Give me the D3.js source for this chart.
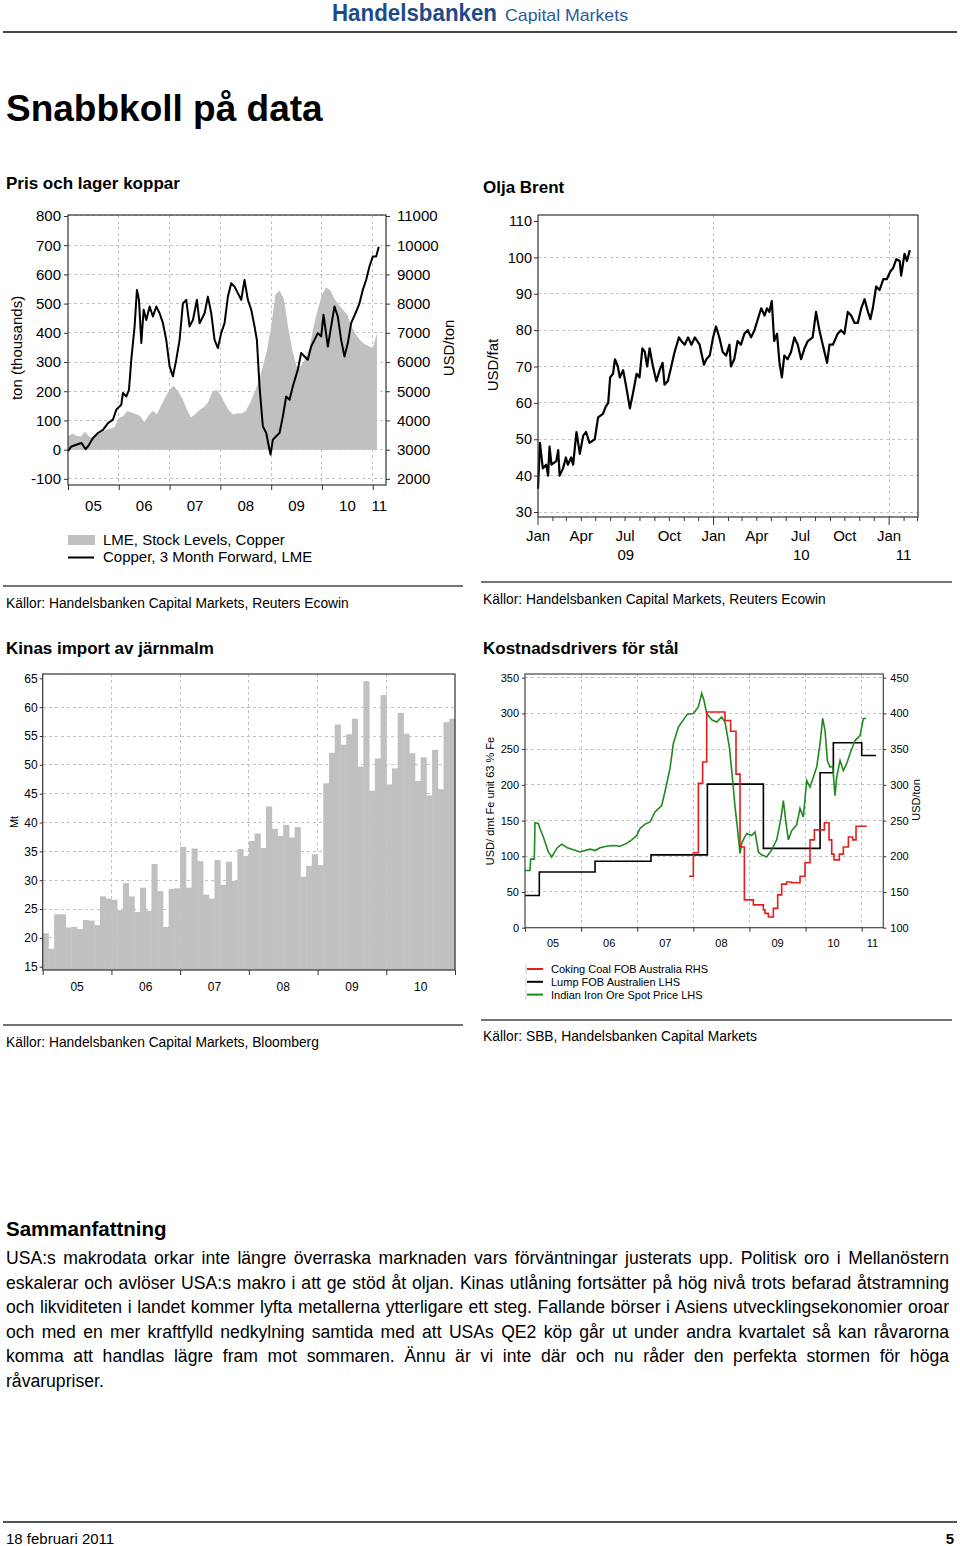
<!DOCTYPE html>
<html>
<head>
<meta charset="utf-8">
<title>Snabbkoll på data</title>
<script src="https://d3js.org/d3.v7.min.js"></script>
<style>
  body { margin: 0; background: #fff; }
  #page { width: 960px; height: 1546px; }
  .grid line { stroke: #c2c2c2; stroke-dasharray: 3,3; shape-rendering: crispEdges; }
</style>
</head>
<body>
<div id="page"></div>
<script>
// ---- Pris och lager koppar ----
const copperYears = [
  2005.000,2005.066,2005.164,2005.262,2005.348,2005.393,2005.492,2005.590,2005.689,2005.787,
  2005.885,2005.951,2006.049,2006.082,2006.148,2006.200,2006.246,2006.311,2006.357,2006.397,
  2006.443,2006.489,2006.541,2006.607,2006.672,2006.738,2006.803,2006.869,2006.934,2007.000,
  2007.066,2007.131,2007.197,2007.262,2007.328,2007.393,2007.459,2007.538,2007.590,2007.689,
  2007.754,2007.820,2007.885,2007.951,2008.016,2008.082,2008.148,2008.213,2008.279,2008.344,
  2008.410,2008.475,2008.541,2008.607,2008.672,2008.718,2008.770,2008.836,2008.902,2008.954,
  2008.987,2009.033,2009.098,2009.164,2009.230,2009.295,2009.361,2009.426,2009.525,2009.590,
  2009.656,2009.721,2009.787,2009.852,2009.918,2009.984,2010.030,2010.115,2010.180,2010.246,
  2010.311,2010.377,2010.443,2010.508,2010.574,2010.659,2010.738,2010.803,2010.869,2010.934,
  2011.000,2011.066,2011.118];
const copperPrice = [
  2950,3110,3170,3230,3020,3110,3400,3570,3680,3910,
  4030,4370,4540,4940,4820,5050,6080,7220,8470,8130,
  6650,7790,7440,7900,7560,7900,7670,7330,6760,5850,
  5510,6080,6760,8010,8130,7220,7440,8130,7330,7670,
  8240,7670,6760,6480,6990,7330,8240,8700,8580,8360,
  8130,8810,8130,7790,7220,6760,5170,3800,3570,3110,
  2830,3340,3460,3570,4140,4820,4710,5170,5740,6310,
  6190,6080,6530,6760,6990,6880,7620,6530,7220,7900,
  7560,6760,6190,6650,7330,7670,8010,8470,8810,9270,
  9610,9610,9950];
// monthly from Jan 2005, thousand tons
const copperStock = [
  45,55,48,45,62,45,40,52,60,67,72,78,
  108,114,132,127,122,115,95,115,133,122,150,180,
  205,219,200,175,140,110,120,135,145,160,195,205,
  190,160,135,120,125,125,132,160,195,230,285,340,
  422,530,545,515,420,340,285,285,310,345,420,480,
  530,556,545,515,495,478,462,420,395,375,362,355,
  348,400];
const copperStockTicks = [-100,0,100,200,300,400,500,600,700,800];
const copperPriceTicks = [2000,3000,4000,5000,6000,7000,8000,9000,10000,11000];
const copperYearLabels = ["05","06","07","08","09","10","11"];

// ---- Olja Brent ----
const brentDates = [
  "2009-01-01","2009-01-05","2009-01-11","2009-01-18","2009-01-22","2009-01-25","2009-01-29","2009-02-08","2009-02-12","2009-02-15",
  "2009-02-22","2009-02-28","2009-03-04","2009-03-11","2009-03-15","2009-03-22","2009-03-29","2009-04-05","2009-04-11","2009-04-18",
  "2009-04-29","2009-05-06","2009-05-16","2009-05-22","2009-05-27","2009-05-31","2009-06-06","2009-06-10","2009-06-16","2009-06-20",
  "2009-06-27","2009-07-04","2009-07-11","2009-07-18","2009-07-25","2009-07-31","2009-08-06","2009-08-11","2009-08-16","2009-08-21",
  "2009-08-28","2009-09-04","2009-09-11","2009-09-17","2009-09-21","2009-09-28","2009-10-05","2009-10-12","2009-10-21","2009-10-26",
  "2009-11-02","2009-11-09","2009-11-16","2009-11-23","2009-12-03","2009-12-12","2009-12-17","2009-12-24","2009-12-31","2010-01-06",
  "2010-01-13","2010-01-20","2010-01-27","2010-02-03","2010-02-06","2010-02-13","2010-02-20","2010-02-27","2010-03-06","2010-03-13",
  "2010-03-20","2010-03-27","2010-04-03","2010-04-10","2010-04-17","2010-04-22","2010-04-27","2010-05-02","2010-05-07","2010-05-13",
  "2010-05-18","2010-05-23","2010-05-28","2010-06-04","2010-06-11","2010-06-18","2010-06-25","2010-07-02","2010-07-09","2010-07-16",
  "2010-07-26","2010-08-02","2010-08-09","2010-08-16","2010-08-25","2010-08-30","2010-09-06","2010-09-16","2010-09-23","2010-09-30",
  "2010-10-07","2010-10-14","2010-10-21","2010-10-28","2010-11-04","2010-11-11","2010-11-18","2010-11-23","2010-11-28","2010-12-05",
  "2010-12-12","2010-12-20","2010-12-27","2011-01-03","2011-01-09","2011-01-16","2011-01-23","2011-01-26","2011-02-02","2011-02-07",
  "2011-02-13"];
const brentValues = [
  36.4,49,42,43,40,48,43,44,47,40,
  42,45,43,45,43,52,46,51,52,49,
  50,56,57,59,60,67,68,72,70,67,
  69,64,58.5,63,68,67,75,74,70,75,
  70,66,69,71,65,66,70,74,78,77,
  76,78,76,78,76,70.5,72,73,78,81,
  78,74,73,76,70,72,77,76,79,80,
  78,80,83,86,84,86,85,88,77,79,
  71,67,73,72,74,78,76,72,75,77,
  78,85,80,76,71,76,76,79,80,79,
  85,84,82,82,86,88.5,85,83,86,92,
  91,94,94,96,97,99.5,99,95,101,99,
  102];
const brentTicks = [30,40,50,60,70,80,90,100,110];
const brentQuarterLabels = ["Jan","Apr","Jul","Oct"];
const brentYearLabels = ["09","10","11"];

// ---- Kinas import av järnmalm (Mt per month, Jan 2005 - Dec 2010) ----
const ironImport = [
  20.8,18.1,24.1,24.1,21.8,21.9,21.5,23.1,23.0,22.2,27.2,26.8,
  26.6,24.8,29.5,27.2,24.5,28.7,24.7,32.8,28.1,21.9,28.5,28.6,
  35.8,28.7,35.5,33.3,27.5,26.8,33.5,29.2,33.2,29.9,35.4,34.2,
  36.8,38.1,35.6,42.8,38.9,37.7,39.6,37.4,39.2,30.6,32.5,34.5,
  32.6,46.8,52.1,57.0,53.5,55.3,58.0,49.7,64.5,45.5,51.1,62.1,
  46.6,49.4,59.0,55.4,52.0,47.2,51.3,44.7,52.6,45.8,57.4,58.0];
const importTicks = [15,20,25,30,35,40,45,50,55,60,65];
const importYearLabels = ["05","06","07","08","09","10"];

// ---- Kostnadsdrivers för stål ----
const lumpYears = [2005.0,2005.255,2006.248,2007.245,2008.25,2009.248,2010.258,2010.495,2011.0,2011.255];
const lumpValues = [45,78,93,102,201,111,217,259,241,241];
const coalYears = [2007.923,2008.000,2008.089,2008.166,2008.238,2008.564,2008.665,2008.760,2008.832,2008.909,
  2009.069,2009.248,2009.277,2009.337,2009.426,2009.503,2009.574,2009.663,2009.753,2009.901,
  2009.990,2010.079,2010.157,2010.335,2010.418,2010.466,2010.507,2010.602,2010.673,2010.763,
  2010.840,2010.899,2011.089];
const coalValues = [172,205,302,332,402,390,375,315,213,139,
  132,125,120,115,127,146,161,164,163,172,
  191,223,237,247,223,203,195,203,213,227,
  223,242,242];
const oreYears = [2005.000,2005.089,2005.101,2005.166,2005.178,2005.238,2005.267,2005.327,2005.416,2005.475,
  2005.576,2005.653,2005.754,2005.980,2006.158,2006.248,2006.337,2006.455,2006.574,2006.693,
  2006.812,2006.901,2006.990,2007.050,2007.139,2007.228,2007.317,2007.436,2007.513,2007.584,
  2007.644,2007.733,2007.822,2007.893,2008.000,2008.089,2008.149,2008.190,2008.238,2008.327,
  2008.416,2008.505,2008.564,2008.642,2008.701,2008.743,2008.784,2008.832,2008.862,2008.903,
  2008.951,2009.040,2009.099,2009.159,2009.218,2009.307,2009.396,2009.485,2009.557,2009.604,
  2009.652,2009.693,2009.753,2009.842,2009.901,2009.960,2010.020,2010.079,2010.139,2010.198,
  2010.258,2010.305,2010.347,2010.388,2010.436,2010.483,2010.525,2010.554,2010.614,2010.673,
  2010.733,2010.792,2010.881,2010.970,2011.030,2011.077];
const oreValues = [80,80,96,96,147,146,139,127,106,99,
  112,117,112,106,110,108,112,114,115,114,
  118,123,129,139,145,148,162,171,197,223,
  258,281,291,299,300,309,328,318,300,291,
  288,295,288,253,206,169,141,104,118,125,
  132,129,134,106,102,99,109,123,151,178,
  146,123,136,144,167,155,206,197,211,225,
  258,293,276,234,225,226,185,211,234,220,
  230,244,262,269,293,293];
const steelLeftTicks = [0,50,100,150,200,250,300,350];
const steelRightTicks = [100,150,200,250,300,350,400,450];
const steelYearLabels = ["05","06","07","08","09","10","11"];
const steelLegend = ["Coking Coal FOB Australia RHS","Lump FOB Australien LHS","Indian Iron Ore Spot Price LHS"];

const summaryLines = [
  "USA:s makrodata orkar inte längre överraska marknaden vars förväntningar justerats upp. Politisk oro i Mellanöstern",
  "eskalerar och avlöser USA:s makro i att ge stöd åt oljan. Kinas utlåning fortsätter på hög nivå trots befarad åtstramning",
  "och likviditeten i landet kommer lyfta metallerna ytterligare ett steg. Fallande börser i Asiens utvecklingsekonomier oroar",
  "och med en mer kraftfylld nedkylning samtida med att USAs QE2 köp går ut under andra kvartalet så kan råvarorna",
  "komma att handlas lägre fram mot sommaren. Ännu är vi inte där och nu råder den perfekta stormen för höga",
  "råvarupriser."
];

const font = "'Liberation Sans', Arial, Helvetica, sans-serif";
const plain = d => String(d);
const svg = d3.select("#page").append("svg")
  .attr("width", 960).attr("height", 1546)
  .style("font-family", font);

function label(x, y, s, size, o = {}) {
  return svg.append("text")
    .attr("x", x).attr("y", y)
    .attr("font-size", size)
    .attr("font-weight", o.bold ? "bold" : null)
    .attr("text-anchor", o.anchor || "start")
    .attr("fill", o.fill || "#000")
    .text(s);
}
function vlabel(x, y, s, size) {
  return svg.append("text")
    .attr("transform", `translate(${x},${y}) rotate(-90)`)
    .attr("text-anchor", "middle").attr("dy", "0.35em")
    .attr("font-size", size).text(s);
}
function rule(x1, x2, y, w, c) {
  svg.append("line").attr("x1", x1).attr("x2", x2).attr("y1", y).attr("y2", y)
    .attr("stroke", c).attr("stroke-width", w);
}
function styleAxis(g, size) {
  g.attr("font-family", font).attr("font-size", size);
  g.select(".domain").remove();
  g.selectAll(".tick line").attr("stroke", "#333");
  g.selectAll(".tick text").attr("fill", "#000");
}
function grid(xs, ys, x, y, L, R, T, B) {
  const g = svg.append("g").attr("class", "grid");
  g.selectAll(".v").data(xs).join("line")
    .attr("x1", d => x(d)).attr("x2", d => x(d)).attr("y1", T).attr("y2", B);
  g.selectAll(".h").data(ys).join("line")
    .attr("x1", L).attr("x2", R).attr("y1", d => y(d)).attr("y2", d => y(d));
}
function frame(L, R, T, B, c) {
  svg.append("rect").attr("x", L).attr("y", T).attr("width", R - L).attr("height", B - T)
    .attr("fill", "none").attr("stroke", c || "#333").attr("stroke-width", 1.2);
}
function yearLabels(labels, first, x, end, y, size) {
  svg.append("g").selectAll("text").data(labels).join("text")
    .attr("x", (d, i) => x((first + i + Math.min(first + i + 1, end)) / 2))
    .attr("y", y).attr("text-anchor", "middle").attr("font-size", size).text(d => d);
}

// ===== header =====
label(332, 21, "Handelsbanken", 24, { bold: true, fill: "#1d4a8a" })
  .attr("textLength", 165).attr("lengthAdjust", "spacingAndGlyphs");
label(505, 21, "Capital Markets", 17, { fill: "#2b5a9a" })
  .attr("textLength", 123).attr("lengthAdjust", "spacingAndGlyphs");
rule(3, 957, 32, 2, "#444");
label(6, 121, "Snabbkoll på data", 37, { bold: true });

// ===== chart 1: copper =====
{
  const L = 68, R = 386, T = 215, B = 485, end = 2011.26;
  const x = d3.scaleLinear().domain([2005, end]).range([L, R]);
  const y = d3.scaleLinear().domain([-121, 803.4]).range([B, T]);
  const yR = d3.scaleLinear().domain([-121 * 10 + 3000, 803.4 * 10 + 3000]).range([B, T]);

  label(6, 189, "Pris och lager koppar", 17, { bold: true });
  grid(d3.range(2006, 2012), copperStockTicks, x, y, L, R, T, B);

  svg.append("path")
    .datum(copperStock.map((v, i) => [2005 + i / 12, v]))
    .attr("fill", "#c0c0c0")
    .attr("d", d3.area().x(d => x(d[0])).y0(y(0)).y1(d => y(d[1])));

  svg.append("path")
    .datum(d3.zip(copperYears, copperPrice))
    .attr("fill", "none").attr("stroke", "#000").attr("stroke-width", 2)
    .attr("stroke-linejoin", "round")
    .attr("d", d3.line().x(d => x(d[0])).y(d => yR(d[1])));

  frame(L, R, T, B);
  styleAxis(svg.append("g").attr("transform", `translate(${L},0)`)
    .call(d3.axisLeft(y).tickValues(copperStockTicks).tickFormat(plain).tickSize(4).tickPadding(3)), 15);
  styleAxis(svg.append("g").attr("transform", `translate(${R},0)`)
    .call(d3.axisRight(yR).tickValues(copperPriceTicks).tickFormat(plain).tickSize(4).tickPadding(7)), 15);
  styleAxis(svg.append("g").attr("transform", `translate(0,${B})`)
    .call(d3.axisBottom(x).tickValues(d3.range(2005, 2012)).tickSize(5).tickFormat("")), 15);
  yearLabels(copperYearLabels, 2005, x, end, 511, 15);

  vlabel(17, 348, "ton (thousands)", 15);
  vlabel(449, 348, "USD/ton", 15);

  svg.append("rect").attr("x", 68).attr("y", 535).attr("width", 27).attr("height", 10).attr("fill", "#c0c0c0");
  label(103, 545, "LME, Stock Levels, Copper", 15);
  rule(68, 94, 557.5, 2, "#000");
  label(103, 562, "Copper, 3 Month Forward, LME", 15);

  rule(3, 463, 586, 1.5, "#444");
  label(6, 608, "Källor: Handelsbanken Capital Markets, Reuters Ecowin", 13.8);
}

// ===== chart 2: Brent =====
{
  const L = 538, R = 918, T = 215, B = 517;
  const start = new Date(2009, 0, 1), end = new Date(2011, 2, 2);
  const x = d3.scaleTime().domain([start, end]).range([L, R]);
  const y = d3.scaleLinear().domain([28.63, 111.65]).range([B, T]);
  const parse = d3.timeParse("%Y-%m-%d");

  label(483, 193, "Olja Brent", 17, { bold: true });
  grid([new Date(2010, 0, 1), new Date(2011, 0, 1)], brentTicks.slice(0, -1), x, y, L, R, T, B);

  svg.append("path")
    .datum(d3.zip(brentDates.map(parse), brentValues))
    .attr("fill", "none").attr("stroke", "#000").attr("stroke-width", 2.2)
    .attr("stroke-linejoin", "round")
    .attr("d", d3.line().x(d => x(d[0])).y(d => y(d[1])));

  frame(L, R, T, B);
  styleAxis(svg.append("g").attr("transform", `translate(${L},0)`)
    .call(d3.axisLeft(y).tickValues(brentTicks).tickFormat(plain).tickSize(4).tickPadding(2)), 14.5);

  const months = d3.timeMonth.range(start, end);
  svg.append("g").selectAll("line").data(months).join("line")
    .attr("x1", d => x(d)).attr("x2", d => x(d))
    .attr("y1", B).attr("y2", d => B + (d.getMonth() === 0 ? 8 : 4))
    .attr("stroke", "#333");
  svg.append("g").selectAll("text").data(months.filter(d => d.getMonth() % 3 === 0)).join("text")
    .attr("x", d => x(d)).attr("y", 541).attr("text-anchor", "middle").attr("font-size", 15)
    .text(d => brentQuarterLabels[d.getMonth() / 3]);
  svg.append("g").selectAll("text").data(brentYearLabels).join("text")
    .attr("x", (d, i) => {
      const a = new Date(2009 + i, 0, 1), b = new Date(Math.min(+new Date(2010 + i, 0, 1), +end));
      return (x(a) + x(b)) / 2;
    })
    .attr("y", 560).attr("text-anchor", "middle").attr("font-size", 15).text(d => d);

  vlabel(493, 365, "USD/fat", 15);

  rule(481, 952, 582, 1.5, "#444");
  label(483, 604, "Källor: Handelsbanken Capital Markets, Reuters Ecowin", 13.8);
}

// ===== chart 3: iron ore import =====
{
  const L = 42.7, R = 455, T = 674, B = 970;
  const x = d3.scaleLinear().domain([0, 72]).range([L, R]);
  const y = d3.scaleLinear().domain([14.43, 65.75]).range([B, T]);

  label(6, 654, "Kinas import av järnmalm", 17, { bold: true });
  grid(d3.range(12, 72, 12), importTicks.slice(1, -1), x, y, L, R, T, B);

  svg.append("g").selectAll("rect").data(ironImport).join("rect")
    .attr("x", (d, i) => x(i)).attr("width", (d, i) => x(i + 1) - x(i) + 0.4)
    .attr("y", d => y(d)).attr("height", d => B - y(d))
    .attr("fill", "#c0c0c0");

  frame(L, R, T, B);
  styleAxis(svg.append("g").attr("transform", `translate(${L},0)`)
    .call(d3.axisLeft(y).tickValues(importTicks).tickFormat(plain).tickSize(3).tickPadding(2)), 12);
  styleAxis(svg.append("g").attr("transform", `translate(0,${B})`)
    .call(d3.axisBottom(x).tickValues(d3.range(0, 73, 12)).tickSize(5).tickFormat("")), 12);
  svg.append("g").selectAll("text").data(importYearLabels).join("text")
    .attr("x", (d, i) => x(i * 12 + 6)).attr("y", 991)
    .attr("text-anchor", "middle").attr("font-size", 12).text(d => d);

  vlabel(14, 822, "Mt", 11);

  rule(3, 463, 1025, 1.5, "#444");
  label(6, 1047, "Källor: Handelsbanken Capital Markets, Bloomberg", 13.8);
}

// ===== chart 4: steel cost drivers =====
{
  const L = 525, R = 883.3, T = 674, B = 927.7, end = 2011.385;
  const x = d3.scaleLinear().domain([2005, end]).range([L, R]);
  const y = d3.scaleLinear().domain([0, 355.2]).range([B, T]);
  const yR = d3.scaleLinear().domain([100, 455.2]).range([B, T]);

  label(483, 654, "Kostnadsdrivers för stål", 17, { bold: true });
  grid(d3.range(2006, 2012), steelLeftTicks.slice(1), x, y, L, R, T, B);

  const lines = [
    { xs: lumpYears, vs: lumpValues, sc: y, c: "#000", curve: d3.curveStepAfter },
    { xs: oreYears, vs: oreValues, sc: y, c: "#1e8a1e", curve: d3.curveLinear },
    { xs: coalYears, vs: coalValues, sc: yR, c: "#e41e1e", curve: d3.curveStepAfter }
  ];
  lines.forEach(s => {
    svg.append("path")
      .datum(d3.zip(s.xs, s.vs))
      .attr("fill", "none").attr("stroke", s.c).attr("stroke-width", 1.6)
      .attr("d", d3.line().curve(s.curve).x(d => x(d[0])).y(d => s.sc(d[1])));
  });

  frame(L, R, T, B, "#444");
  styleAxis(svg.append("g").attr("transform", `translate(${L},0)`)
    .call(d3.axisLeft(y).tickValues(steelLeftTicks).tickFormat(plain).tickSize(3).tickPadding(3)), 11);
  styleAxis(svg.append("g").attr("transform", `translate(${R},0)`)
    .call(d3.axisRight(yR).tickValues(steelRightTicks).tickFormat(plain).tickSize(3).tickPadding(4)), 11);
  styleAxis(svg.append("g").attr("transform", `translate(0,${B})`)
    .call(d3.axisBottom(x).tickValues(d3.range(2005, 2012)).tickSize(4).tickFormat("")), 11);
  yearLabels(steelYearLabels, 2005, x, end, 947, 11);

  vlabel(490, 801, "USD/ dmt Fe unit 63 % Fe", 11);
  vlabel(916, 800, "USD/ton", 11);

  const legColors = ["#e41e1e", "#000", "#1e8a1e"];
  steelLegend.forEach((s, i) => {
    const yy = 969 + i * 12.8;
    svg.append("line").attr("x1", 526).attr("x2", 526).attr("y1", yy - 5).attr("y2", yy + 5)
      .attr("stroke", "#ccc");
    rule(527, 543, yy, 2, legColors[i]);
    label(551, yy + 4, s, 11);
  });

  rule(481, 952, 1020, 1.5, "#444");
  label(483, 1041, "Källor: SBB, Handelsbanken Capital Markets", 13.8);
}

// ===== summary text =====
label(6, 1236, "Sammanfattning", 20.5, { bold: true });
summaryLines.forEach((s, i) => {
  const t = label(6, 1264 + i * 24.6, s, 17.6);
  if (i < summaryLines.length - 1) {
    const w = t.node().getComputedTextLength();
    const n = s.split(" ").length - 1;
    t.style("word-spacing", ((943 - w) / n) + "px");
  }
});

// ===== footer =====
rule(3, 957, 1522, 2, "#555");
label(6, 1544, "18 februari 2011", 15);
label(954, 1544, "5", 15, { bold: true, anchor: "end" });
</script>
</body>
</html>
